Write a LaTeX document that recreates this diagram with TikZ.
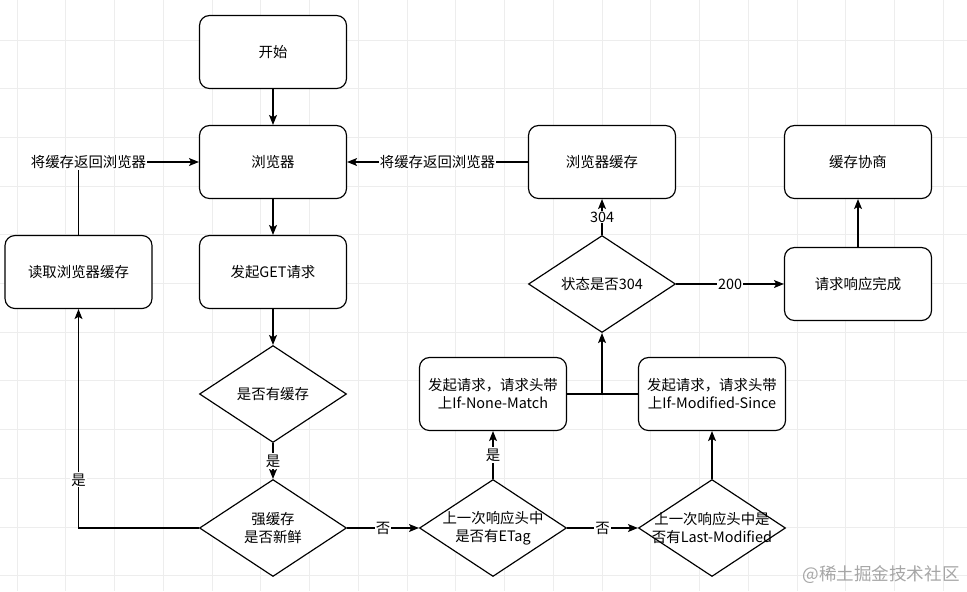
\documentclass[tikz,border=0pt]{standalone}
\usepackage{fontspec}
\setmainfont{Noto Sans CJK SC}
\usetikzlibrary{shapes.geometric,arrows.meta}

\newcommand\flowfont{\fontsize{12.3}{15.3}\selectfont}

\tikzset{
  box/.style={rectangle,rounded corners=3mm,draw,line width=1pt,fill=white,
    minimum width=44.1mm,minimum height=21.9mm,align=center,font=\flowfont},
  dec/.style={diamond,draw,line width=1pt,fill=white,
    minimum width=44.1mm,minimum height=29.1mm,inner sep=0pt},
  flow/.style={draw,line width=1pt,-{Stealth[length=3mm,width=2.4mm,inset=0.7mm]}},
  tag/.style={fill=white,inner sep=1pt,font=\flowfont},
  gridline/.style={draw=black!7,line width=0.7pt}
}

\begin{document}
\begin{tikzpicture}[x=0.3mm,y=-0.3mm]

        \useasboundingbox (0,0) rectangle (967,591);

        % background grid
        \foreach \k in {0,...,19}
          \draw[gridline] ({17+48.75*\k},0) -- ({17+48.75*\k},591);
        \foreach \k in {0,...,11}
          \draw[gridline] (0,{40+48.7*\k}) -- (967,{40+48.7*\k});

        % boxes
        \node[box] (start)   at (273,52)    {开始};
        \node[box] (browser) at (273,162)   {浏览器};
        \node[box] (get)     at (273,272)   {发起GET请求};
        \node[box] (read)    at (78.5,272)  {读取浏览器缓存};
        \node[box] (inm)     at (493,394)   {发起请求，请求头带\\上If-None-Match};
        \node[box] (ims)     at (712,394)   {发起请求，请求头带\\上If-Modified-Since};
        \node[box] (bcache)  at (602,162)   {浏览器缓存};
        \node[box] (done)    at (858,284)   {请求响应完成};
        \node[box] (nego)    at (858,162)   {缓存协商};

        % decisions
        \begin{scope}[every label/.style={align=center,font=\flowfont}]
          \node[dec,label={center:是否有缓存}] (hascache) at (273,394) {};
          \node[dec,label={center:强缓存\\是否新鲜}] (fresh) at (273,528) {};
          \node[dec,label={center:上一次响应头中\\是否有ETag}] (etag) at (493,528) {};
          \node[dec,label={center:上一次响应头中是\\否有Last-Modified}] (lastmod) at (712,528) {};
          \node[dec,label={center:状态是否304}] (status) at (602,284) {};
        \end{scope}

        % connectors
        \path[flow] (start) -- (browser);
        \path[flow] (browser) -- (get);
        \path[flow] (get) -- (hascache);
        \path[flow] (hascache) -- node[tag] {是} (fresh);
        \path[flow] (fresh.west) -| node[tag,pos=0.61] {是} (read.south);
        \path[flow] (read.north) |- node[tag,xshift=3mm] {将缓存返回浏览器} (browser.west);
        \path[flow] (fresh) -- node[tag] {否} (etag);
        \path[flow] (etag) -- node[tag] {否} (lastmod);
        \path[flow] (etag) -- node[tag] {是} (inm);
        \path[flow] (lastmod) -- (ims);
        \draw[line width=1pt] (inm) -- (ims);
        \coordinate (join) at (status.south |- inm.east);
        \path[flow] (join) -- (status);
        \path[flow] (status) -- node[tag] {304} (bcache);
        \path[flow] (status) -- node[tag] {200} (done);
        \path[flow] (done) -- (nego);
        \path[flow] (bcache) -- node[tag] {将缓存返回浏览器} (browser);

        \node[text=black!35,font=\fontsize{15}{17}\selectfont] (mark) at (881,575) {@稀土掘金技术社区};

\end{tikzpicture}
\end{document}
